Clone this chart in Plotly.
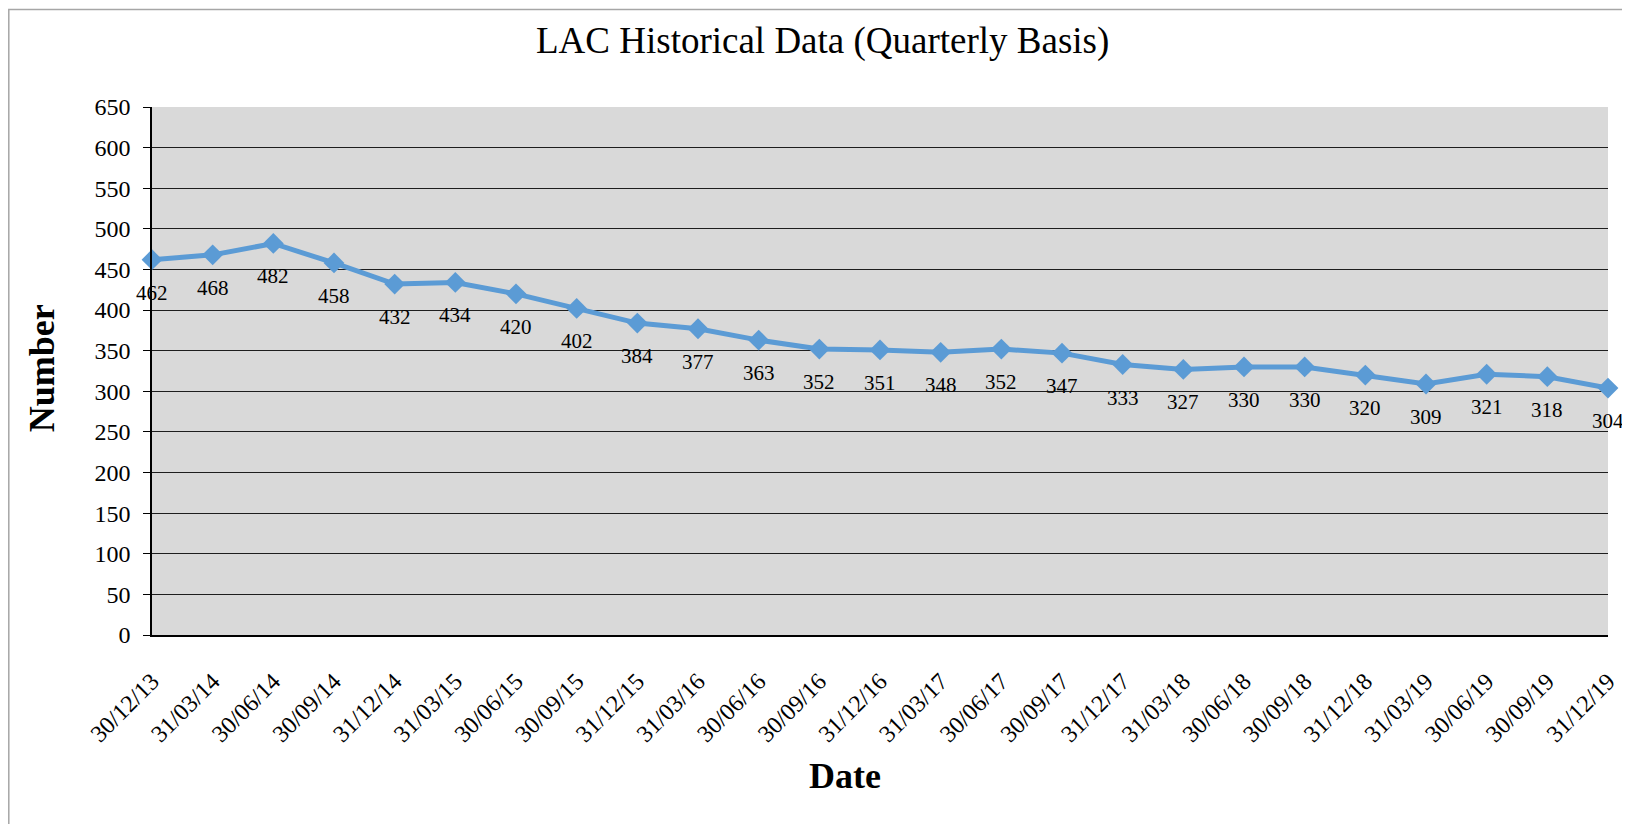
import plotly.graph_objects as go

dates = ["30/12/13", "31/03/14", "30/06/14", "30/09/14", "31/12/14", "31/03/15",
         "30/06/15", "30/09/15", "31/12/15", "31/03/16", "30/06/16", "30/09/16",
         "31/12/16", "31/03/17", "30/06/17", "30/09/17", "31/12/17", "31/03/18",
         "30/06/18", "30/09/18", "31/12/18", "31/03/19", "30/06/19", "30/09/19",
         "31/12/19"]
values = [462, 468, 482, 458, 432, 434, 420, 402, 384, 377, 363, 352, 351, 348,
          352, 347, 333, 327, 330, 330, 320, 309, 321, 318, 304]
y_ticks = list(range(0, 651, 50))

FONT = "Liberation Serif, Times New Roman, serif"
BLUE = "#5b9bd5"

# page offset (browser body margin)
OFF = 8
FIG_W, FIG_H = 1630 - OFF, 824 - OFF

fig = go.Figure()
fig.add_trace(go.Scatter(
    x=dates, y=values, mode="lines+markers",
    line=dict(color=BLUE, width=5),
    marker=dict(symbol="diamond", size=16, color=BLUE),
    hoverinfo="x+y", showlegend=False, cliponaxis=False,
))

annotations = []
for d, v in zip(dates, values):
    annotations.append(dict(x=d, y=v, xref="x", yref="y", text=str(v),
                            showarrow=False, yshift=-33,
                            font=dict(family=FONT, size=21, color="black")))

# plot area in page pixels
L, R, T, B = 152, 1608, 106.5, 635
W, H = R - L, B - T
def px(p):
    return (p - L) / W
def py(p):
    return (B - p) / H

annotations.append(dict(x=px(822), y=py(40), xref="paper", yref="paper",
                        text="LAC Historical Data (Quarterly Basis)", showarrow=False,
                        xanchor="center", yanchor="middle",
                        font=dict(family=FONT, size=37, color="black")))
annotations.append(dict(x=px(845), y=py(776), xref="paper", yref="paper",
                        text="<b>Date</b>", showarrow=False,
                        xanchor="center", yanchor="middle",
                        font=dict(family=FONT, size=36, color="black")))
annotations.append(dict(x=px(42), y=py(368), xref="paper", yref="paper",
                        text="<b>Number</b>", showarrow=False, textangle=-90,
                        xanchor="center", yanchor="middle",
                        font=dict(family=FONT, size=36, color="black")))

fig.update_layout(
    width=FIG_W, height=FIG_H,
    margin=dict(l=L - OFF, r=FIG_W - (R - OFF), t=T - OFF, b=FIG_H - (B - OFF),
                pad=0, autoexpand=False),
    paper_bgcolor="white", plot_bgcolor="#d9d9d9",
    font=dict(family=FONT, color="black"),
    annotations=annotations,
    shapes=[dict(type="rect", xref="paper", yref="paper",
                 x0=px(OFF + 0.8), y0=py(OFF + 0.8), x1=px(1700), y1=py(900),
                 line=dict(color="#a6a6a6", width=1.5), fillcolor="rgba(0,0,0,0)",
                 layer="below")],
)
fig.update_xaxes(
    type="category", range=[0, len(dates) - 1], automargin=False,
    showgrid=False, showline=True, linecolor="black", linewidth=1.5,
    ticks="", tickangle=-45, ticklabelstandoff=21,
    tickfont=dict(family=FONT, size=24, color="black"),
    zeroline=False,
)
fig.update_yaxes(
    range=[0, 650], tickvals=y_ticks, ticktext=[str(t) for t in y_ticks],
    automargin=False,
    showgrid=True, gridcolor="#1e1e1e", gridwidth=1.3,
    showline=True, linecolor="black", linewidth=1.5,
    ticks="outside", ticklen=7, tickcolor="black", tickwidth=1.3,
    ticklabelstandoff=8,
    tickfont=dict(family=FONT, size=24, color="black"),
    zeroline=False,
)

fig.write_html("out.html")
